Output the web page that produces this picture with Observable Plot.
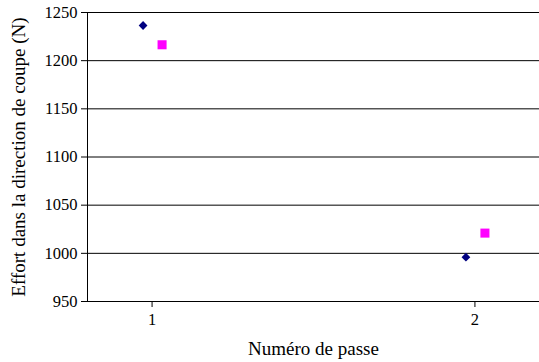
<!DOCTYPE html>
<html><head><meta charset="utf-8">
<script src="https://cdn.jsdelivr.net/npm/d3@7"></script>
<script src="https://cdn.jsdelivr.net/npm/@observablehq/plot@0.6"></script>
<style>
body{margin:0;background:#fff;}
#c svg{display:block;}
#c svg, #c svg text{font-family:'Liberation Serif','Times New Roman',serif !important;}
</style>
</head><body><div id="c"></div>
<script>
const passes = [1, 2];
const serieA = [1236.5, 996];   // losanges bleu marine
const serieB = [1216.5, 1021];  // carrés magenta
const yTicks = [950, 1000, 1050, 1100, 1150, 1200, 1250];
const xTicks = [1, 2];

const dataA = passes.map((p, i) => ({passe: p, effort: serieA[i]}));
const dataB = passes.map((p, i) => ({passe: p, effort: serieB[i]}));

const chart = Plot.plot({
  width: 539,
  height: 362,
  marginLeft: 87,
  marginRight: 0,
  marginTop: 12,
  marginBottom: 61,
  style: {fontFamily: "'Liberation Serif', 'Times New Roman', serif", fontSize: "16.5px", color: "#000", background: "#fff"},
  x: {domain: [0.8, 2.2], label: null},
  y: {domain: [950, 1250], label: null},
  marks: [
    Plot.ruleY(yTicks, {stroke: "#000", strokeWidth: 1}),
    Plot.ruleX([0.8], {stroke: "#000", strokeWidth: 1}),
    Plot.axisX({ticks: xTicks, tickSize: 6, tickPadding: 6, tickFormat: d => String(d), label: null, stroke: "#000", fontSize: 16.5}),
    Plot.axisY({ticks: yTicks, tickSize: 6, tickPadding: 4, tickFormat: d => String(d), label: null, stroke: "#000", fontSize: 16.5}),
    Plot.dot(dataA, {x: "passe", y: "effort", symbol: "square", rotate: 45, r: 3.5, fill: "#000080", stroke: "none", dx: -9}),
    Plot.dot(dataB, {x: "passe", y: "effort", symbol: "square", r: 5.1, fill: "#FF00FF", stroke: "none", dx: 10}),
    Plot.text(["Numéro de passe"], {frameAnchor: "bottom", dy: 53, fontSize: 19, fill: "#000"}),
    Plot.text(["Effort dans la direction de coupe (N)"], {frameAnchor: "left", textAnchor: "middle", dx: -69, rotate: -90, fontSize: 19, fill: "#000"})
  ]
});
document.getElementById("c").appendChild(chart);
</script>
</body></html>
